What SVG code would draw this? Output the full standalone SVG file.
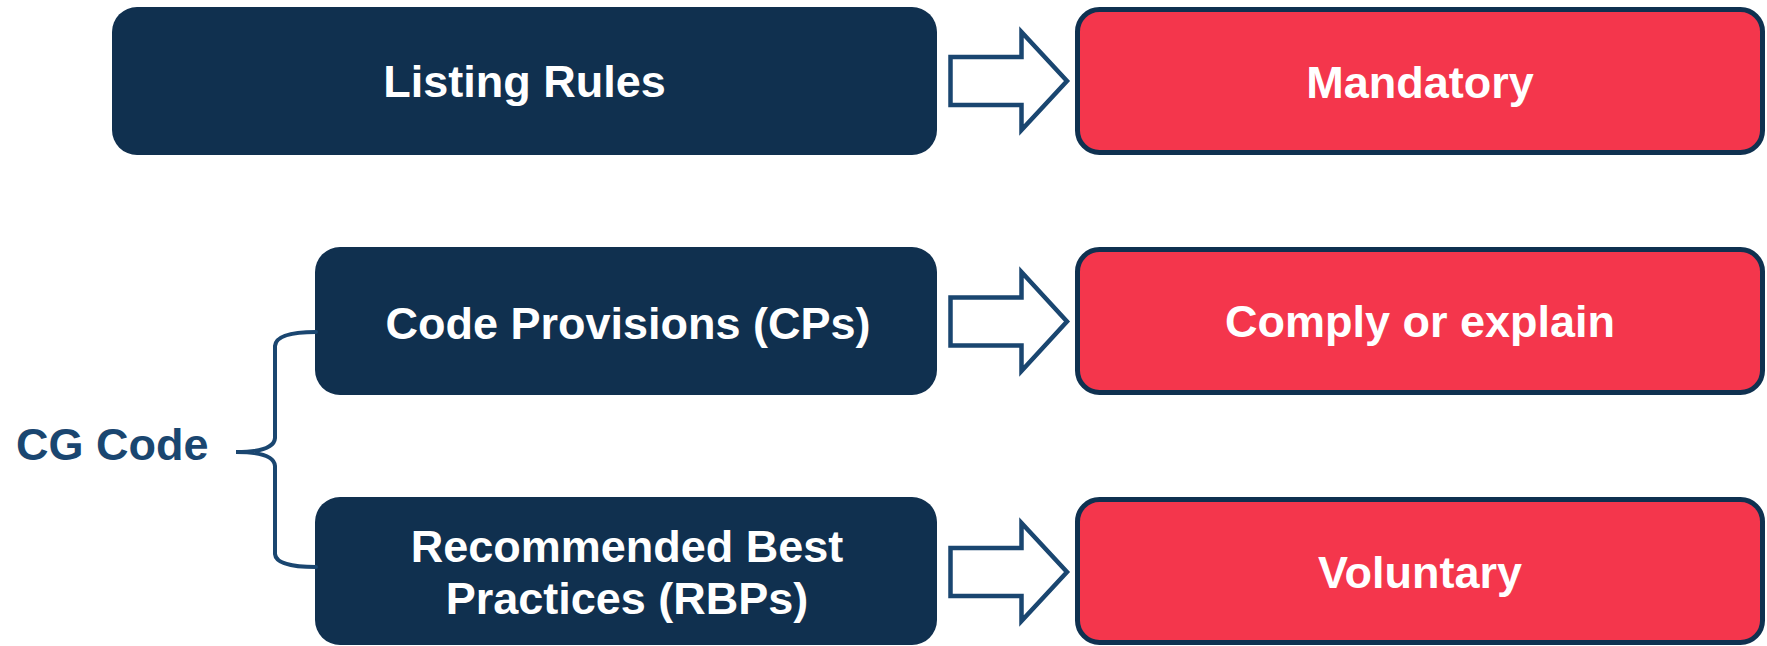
<svg xmlns="http://www.w3.org/2000/svg" width="1767" height="646" viewBox="0 0 1767 646">
<style>
.dark{fill:#10304f;}
.red{fill:#f4364c;stroke:#0f3150;stroke-width:5;}
.arrow{fill:#ffffff;stroke:#1a4670;stroke-width:4.5;stroke-linejoin:miter;}
.lbl{font-family:"Liberation Sans",Arial,sans-serif;font-weight:bold;font-size:45px;fill:#ffffff;text-anchor:middle;}
.brace{fill:none;stroke:#1a4670;stroke-width:4;stroke-linecap:round;}
.cg{font-family:"Liberation Sans",Arial,sans-serif;font-weight:bold;font-size:45px;fill:#1a4670;}
</style>
<rect width="1767" height="646" fill="#ffffff"/>
<g id="listing-rules">
<rect class="dark" x="112" y="7" width="825" height="148" rx="25"/>
<text class="lbl" x="524.5" y="97">Listing Rules</text>
</g>
<g id="mandatory">
<rect class="red" x="1077.5" y="9.5" width="685" height="143" rx="22"/>
<text class="lbl" x="1420" y="98">Mandatory</text>
</g>
<g id="code-provisions">
<rect class="dark" x="315" y="247" width="622" height="148" rx="25"/>
<text class="lbl" x="628" y="339">Code Provisions (CPs)</text>
</g>
<g id="comply">
<rect class="red" x="1077.5" y="249.5" width="685" height="143" rx="22"/>
<text class="lbl" x="1420" y="337">Comply or explain</text>
</g>
<g id="rbp">
<rect class="dark" x="315" y="497" width="622" height="148" rx="25"/>
<text class="lbl" x="627" y="562">Recommended Best</text>
<text class="lbl" x="627" y="614">Practices (RBPs)</text>
</g>
<g id="voluntary">
<rect class="red" x="1077.5" y="499.5" width="685" height="143" rx="22"/>
<text class="lbl" x="1420" y="588">Voluntary</text>
</g>
<g id="cg-code">
<text class="cg" x="16" y="460">CG Code</text>
</g>
<g id="connectors">
<polygon class="arrow" points="950.5,57 1021.5,57 1021.5,32 1067,81 1021.5,130 1021.5,105 950.5,105"/>
<polygon class="arrow" points="950.5,297.5 1021.5,297.5 1021.5,272 1067,321.5 1021.5,371 1021.5,345.5 950.5,345.5"/>
<polygon class="arrow" points="950.5,548 1021.5,548 1021.5,523 1067,572 1021.5,621 1021.5,596 950.5,596"/>
<path class="brace" d="M316 332 Q276 332 275 346 L275 438 Q274 452 236 452 Q274 452 275 466 L275 554 Q276 567 316 567"/>
</g>
</svg>
